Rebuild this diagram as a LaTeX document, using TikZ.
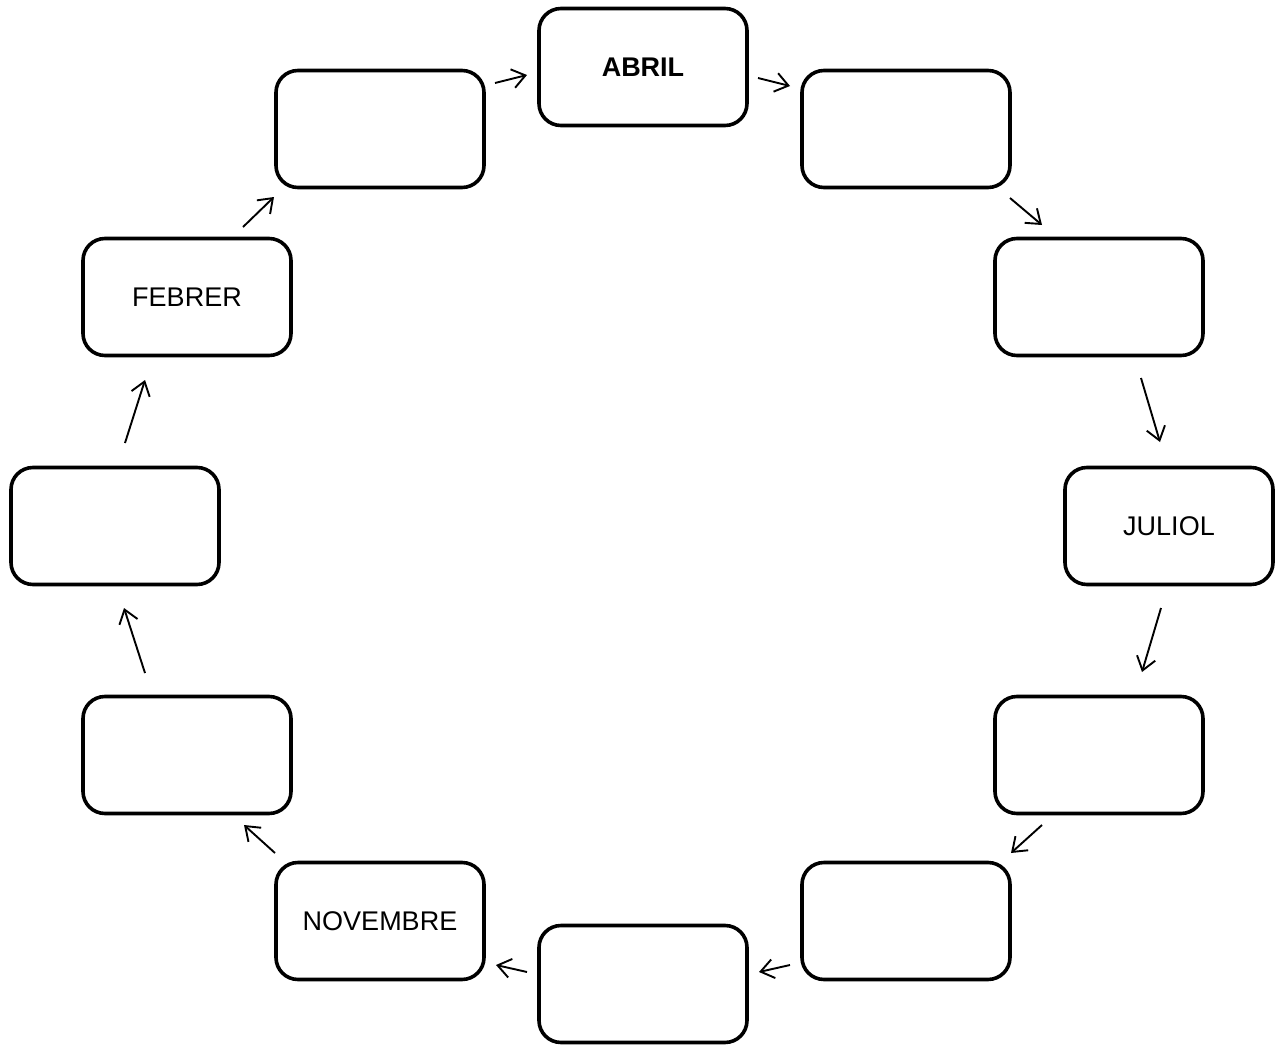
\documentclass[tikz,border=0pt]{standalone}
\usepackage{fontspec}
\setmainfont{Liberation Sans}
\usetikzlibrary{arrows.meta,calc}
\begin{document}
\begin{tikzpicture}[x=0.5pt,y=-0.5pt,
  month/.style={draw=black, line width=1.8pt, rounded corners=11pt, fill=white,
    minimum width=104pt, minimum height=58.5pt, inner sep=0pt,
    font=\fontsize{13.5pt}{15pt}\selectfont},
  arr/.style={line width=0.95pt, -{Straight Barb[length=6.5pt,width=9.5pt,line width=0.95pt]}}]
\useasboundingbox[fill=white] (0,0) rectangle (1282,1045);
\node[month] (jan) at (115,526) {};
\node[month] (feb) at (187,297) {FEBRER};
\node[month] (mar) at (380,129) {};
\node[month] (apr) at (643,67) {\bfseries ABRIL};
\node[month] (may) at (906,129) {};
\node[month] (jun) at (1099,297) {};
\node[month] (jul) at (1169,526) {JULIOL};
\node[month] (aug) at (1099,755) {};
\node[month] (sep) at (906,921) {};
\node[month] (oct) at (643,984) {};
\node[month] (nov) at (380,921) {NOVEMBRE};
\node[month] (dec) at (187,755) {};
\draw[arr] ($(jan)+(10,-83)$) -- ($(feb)+(-42,83)$);
\draw[arr] ($(feb)+(56,-70)$) -- ($(mar)+(-106,68)$);
\draw[arr] ($(mar)+(115,-46)$) -- ($(apr)+(-116,8)$);
\draw[arr] ($(apr)+(115,11)$) -- ($(may)+(-116,-43)$);
\draw[arr] ($(may)+(104,69)$) -- ($(jun)+(-57,-72)$);
\draw[arr] ($(jun)+(42,81)$) -- ($(jul)+(-9,-84)$);
\draw[arr] ($(jul)+(-8,82)$) -- ($(aug)+(43,-83)$);
\draw[arr] ($(aug)+(-57,70)$) -- ($(sep)+(105,-68)$);
\draw[arr] ($(sep)+(-116,44)$) -- ($(oct)+(116,-12)$);
\draw[arr] ($(oct)+(-116,-12)$) -- ($(nov)+(116,44)$);
\draw[arr] ($(nov)+(-105,-68)$) -- ($(dec)+(57,70)$);
\draw[arr] ($(dec)+(-42,-82)$) -- ($(jan)+(9,82)$);
\end{tikzpicture}
\end{document}
